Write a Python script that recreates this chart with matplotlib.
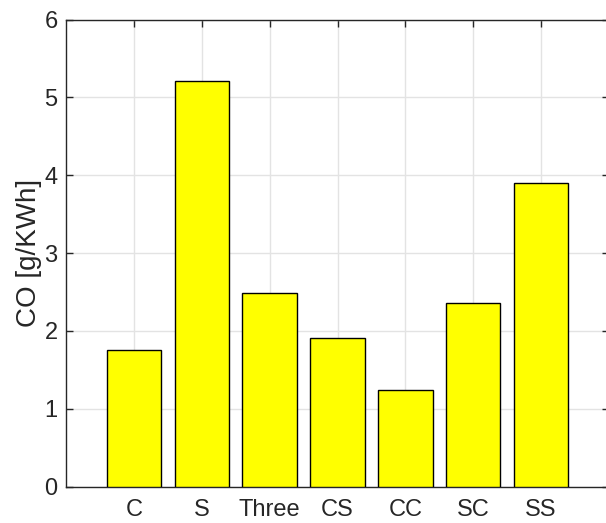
import matplotlib
matplotlib.use('Agg')
import matplotlib.pyplot as plt

plt.rcParams['font.family'] = ['Liberation Sans', 'DejaVu Sans']

categories = ['C', 'S', 'Three', 'CS', 'CC', 'SC', 'SS']
co_values = [1.76, 5.21, 2.49, 1.905, 1.24, 2.355, 3.895]

fig = plt.figure(figsize=(6.06, 5.23), dpi=100)
# axes run slightly past the right edge of the figure
ax = fig.add_axes([66 / 606, 36.3 / 523, 543 / 606, 467.2 / 523])

x = range(1, len(categories) + 1)
ax.bar(x, co_values, width=0.8, color='#ffff00', edgecolor='black', linewidth=1.0, zorder=3)

ax.set_xlim(0, 8)
ax.set_ylim(0, 6)
ax.set_xticks(list(x))
ax.set_xticklabels(categories)
ax.set_yticks(range(0, 7))

ax.grid(True, color='#e3e3e3', linewidth=1.0, zorder=0)
ax.set_axisbelow(True)
ax.tick_params(direction='in', length=5, width=1, colors='#262626', labelsize=17,
               top=True, right=True)
ax.tick_params(axis='x', pad=9)
ax.tick_params(axis='y', pad=6)
for s in ax.spines.values():
    s.set_color('#262626')
    s.set_linewidth(1.0)

ax.set_ylabel('CO [g/KWh]', fontsize=20, color='#262626', labelpad=2)

fig.savefig('out.png', dpi=100)
